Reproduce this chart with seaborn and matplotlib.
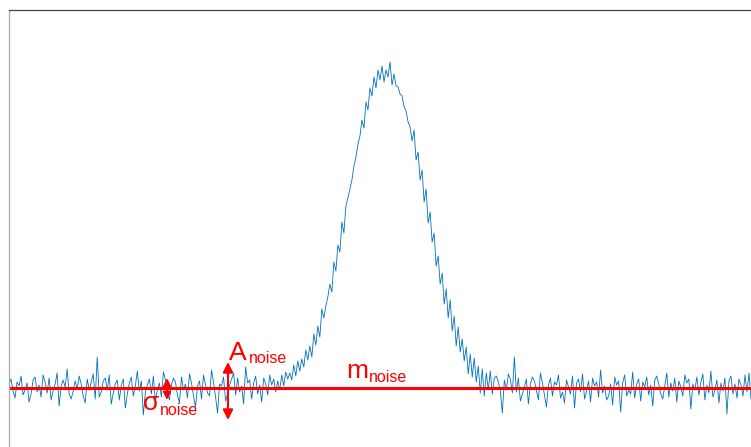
import numpy as np
import seaborn as sns
import matplotlib.pyplot as plt

# signal (baseline = 0), one sample every ~2 px
noise_left = [
    4, 9, -3, -10, 6, 2, 12, -7, -2, 5, -14, -6, 8, 11, -4, 3, -9, 13, 6, -5,
    10, -12, -3, 4, 15, -18, 2, 8, 1, 19, -6, -11, -3, 7, -1, 12, 4, -8, -15, 9,
    -2, 6, 14, -11, 31, -9, -4, 7, 10, -2, 13, -16, -5, 4, 8, -12, 3, 9, -20, -6,
    5, 11, -8, 2, 17, -3, 7, -27, -4, 3, 9, -6, 12, -14, -2, 5, -9, 16, 8, -4,
    -12, 3, 10, 6, -7, -15, 11, -2, 4, -10, 14, 5, -8, -19, 2, 7, -11, 13, 3, -5,
    -8, 18, 6, -9, -25, 4, 2, 11, -13, -6, 3, 9, 15, -7, 10, -4, 2, -16, 21, 5,
    8, -11, 5, 12, -6, 3, -14, 10, 4, -7, 13, 3, 9, -4,
]
peak = [
    7, -2, 13, 2, 16, 9, 15, 8, 23, 12, 27, 17, 29, 21, 38, 28, 42, 31, 54, 43,
    62, 51, 79, 70, 82, 91, 104, 96, 126, 117, 143, 136, 166, 155, 182, 190, 199, 208, 222, 231,
    244, 252, 268, 260, 286, 278, 300, 292, 311, 300, 318, 308, 322, 306, 318, 311, 326, 303, 314, 302,
    301, 294, 292, 281, 277, 266, 261, 247, 258, 228, 236, 208, 218, 186, 199, 165, 176, 146, 155, 122,
    132, 104, 115, 84, 99, 70, 88, 57, 72, 42, 61, 36, 49, 27, 41, 14, 34, 11, 30, 6,
    22, -5, 19, -8, 15, -2, 17, -6, 10,
]
noise_right = [
    12, 6, -3, -25, 8, -2, 14, 9, -5, 31, -4, 10, -13, -6, 1, 9, -16, 4, 11, 7,
    -2, -12, 15, 5, -7, -19, 3, 10, -8, 6, 3, 13, -10, -4, -15, 8, 1, -6, 12, -20,
    5, 9, -4, 14, -11, -3, 7, -14, 10, 2, 6, -9, 18, -5, 2, -12, -8, 4, -17, 11,
    3, 7, -24, 5, 13, -8, -2, -6, 16, -10, 4, 9, -13, 6, 1, 11, -7, 3, -18, 8,
    12, 4, -6, -11, 2, 15, -9, 5, -3, 10, -14, 7, 1, -8, 13, 5, 9, -21, 4, -2,
    11, -7, 6, 14, -12, 3, -5, 17, -9, -2, 8, -15, 5, -3, 10, -26, 7, 12, -6, 4,
    -10, 9, 3, -8, 13, -4, 15, -11,
]
signal = noise_left + peak + noise_right
samples = np.arange(len(signal))

noise_mean = 0
a_noise = (26, -32)
sigma_noise = (10, -12)

sns.set_style("white")
plt.rcParams['font.family'] = ['Liberation Sans', 'DejaVu Sans']

fig = plt.figure(figsize=(7.51, 4.47), dpi=100)
ax = fig.add_axes([9 / 751, 0, 742 / 751, 437 / 447])

sns.lineplot(x=samples, y=signal, ax=ax, color='#0072BD', linewidth=0.6)
ax.axhline(noise_mean, color='red', linewidth=2.2)

# arrows for A_noise and sigma_noise
ax.annotate('', xy=(109.2, a_noise[0]), xytext=(109.2, a_noise[1]),
            arrowprops=dict(arrowstyle='<|-|>', color='red', lw=1.5,
                            mutation_scale=15, shrinkA=0, shrinkB=0))
ax.annotate('', xy=(78.8, sigma_noise[0]), xytext=(78.8, sigma_noise[1]),
            arrowprops=dict(arrowstyle='<|-|>', color='red', lw=1.5,
                            mutation_scale=11, shrinkA=0, shrinkB=0))


def label(x, y, main, dx, dy):
    ax.text(x, y, main, color='red', fontsize=19, ha='left', va='baseline')
    ax.annotate('noise', xy=(x, y), xytext=(dx, dy), textcoords='offset points',
                color='red', fontsize=11.5, ha='left', va='baseline')


label(109.7, 28, 'A', 14.5, -2)
label(168.1, 10, 'm', 16.5, -3)
label(66.8, -22, 'σ', 12, -3.6)

ax.set_xlim(0, len(signal) - 1)
ax.set_ylim(-59, 378)
ax.set_xticks([])
ax.set_yticks([])
ax.set_xlabel('')
ax.set_ylabel('')
ax.spines['right'].set_visible(False)
ax.spines['bottom'].set_visible(False)
ax.spines['top'].set_color('#404040')
ax.spines['top'].set_linewidth(0.9)
ax.spines['left'].set_color('#a8a8a8')
ax.spines['left'].set_linewidth(0.9)

fig.savefig('out.png', dpi=100)
